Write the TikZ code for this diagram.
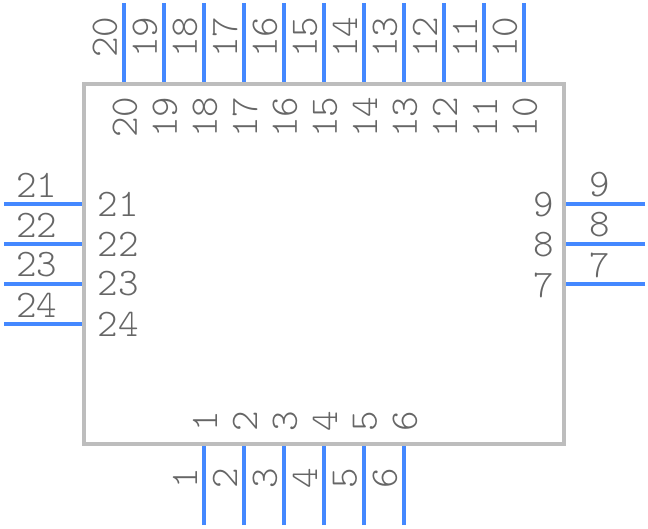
\documentclass[tikz,border=0pt]{standalone}
\tikzstyle{pinline} = [draw=blue1, line width=4pt]
\tikzstyle{padlabel} = [text=gray1, font=\fontsize{39}{39}\ttfamily\fontseries{l}\selectfont, inner sep=0pt]
\tikzstyle{outline} = [draw=gray2, line width=4pt, outer sep=0pt, minimum width=480pt, minimum height=360pt]
\definecolor{blue1}{RGB}{68,136,255}
\definecolor{gray1}{RGB}{102,102,102}
\definecolor{gray2}{RGB}{189,189,189}
\usetikzlibrary{positioning}

\begin{document}
\begin{tikzpicture}[x=1pt, y=-1pt]
    \useasboundingbox (0,0) rectangle (648,528);

    % bottom pins
    \foreach \n [evaluate=\n as \px using {204+(\n-1)*40}] in {1,...,6} {
        \coordinate (pin\n) at (\px,525);
        \coordinate (end\n) at (\px,444);
        \draw [pinline] (pin\n) -- (end\n);
        \node [padlabel, rotate=90] (outer\n) at (\px-19,478) {\n};
        \node [padlabel, rotate=90] (inner\n) at (\px+1,421) {\n};
    }

    % right pins
    \foreach \n [evaluate=\n as \py using {204+(9-\n)*40}] in {7,8,9} {
        \coordinate (pin\n) at (645,\py);
        \coordinate (end\n) at (564,\py);
        \draw [pinline] (pin\n) -- (end\n);
        \node [padlabel] (outer\n) at (600,\py-19) {\n};
        \node [padlabel] (inner\n) at (544,\py+1) {\n};
    }

    % top pins
    \foreach \n [evaluate=\n as \px using {524-(\n-10)*40}] in {10,...,20} {
        \coordinate (pin\n) at (\px,3);
        \coordinate (end\n) at (\px,84);
        \draw [pinline] (pin\n) -- (end\n);
        \node [padlabel, rotate=90] (outer\n) at (\px-19,37) {\n};
        \node [padlabel, rotate=90] (inner\n) at (\px+1,117) {\n};
    }

    % left pins
    \foreach \n [evaluate=\n as \py using {204+(\n-21)*40}] in {21,...,24} {
        \coordinate (pin\n) at (4,\py);
        \coordinate (end\n) at (84,\py);
        \draw [pinline] (pin\n) -- (end\n);
        \node [padlabel] (outer\n) at (37,\py-19) {\n};
        \node [padlabel] (inner\n) at (118,\py) {\n};
    }

    % package
    \node [outline] (body) at (324,264) {};
\end{tikzpicture}
\end{document}
